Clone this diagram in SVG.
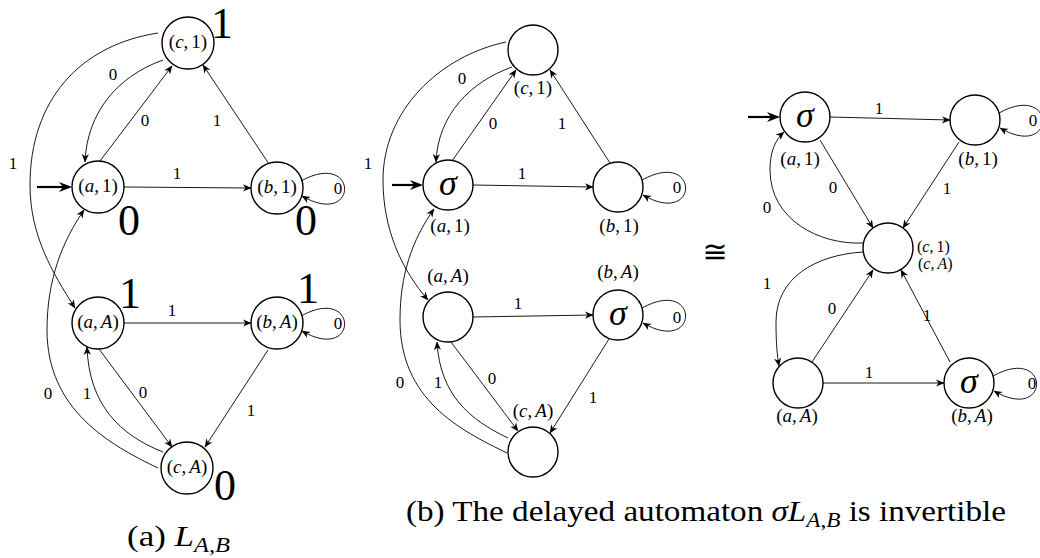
<svg xmlns="http://www.w3.org/2000/svg" width="1040" height="558" viewBox="0 0 1040 558">
<style>
.nd circle{fill:#fff;stroke:#000;stroke-width:1.4}
.e{fill:none;stroke:#000;stroke-width:0.9;marker-end:url(#arr)}
.init{fill:none;stroke:#000;stroke-width:2.2;marker-end:url(#arrI)}
svg text{fill:#000;font-family:'Liberation Serif',serif !important}
.l{font-size:17px;text-anchor:middle}
.nl{font-size:19px;text-anchor:middle}
.nls{font-size:16px;text-anchor:start}
.big{font-size:44px;text-anchor:middle}
.sig{font-size:36px;font-style:italic;text-anchor:middle}
.it{font-style:italic}
.cap{font-size:30px}
</style>
<defs>
<marker id="arr" viewBox="-9 -5 10 10" refX="0" refY="0" markerWidth="10" markerHeight="10" markerUnits="userSpaceOnUse" orient="auto"><path d="M0.5,0 L-8,-3.6 L-5.5,0 L-8,3.6 Z" fill="#000"/></marker>
<marker id="arrI" viewBox="-10 -6 15 12" refX="0" refY="0" markerWidth="15" markerHeight="12" markerUnits="userSpaceOnUse" orient="auto"><path d="M4,0 L-9,-5 L-5,0 L-9,5 Z" fill="#000"/></marker>
</defs>
<g id="connectors">
<path class="init" d="M37,187 L68,187"/>
<path class="e" d="M124,187 L251,188"/>
<path class="e" d="M269,164 L203,65"/>
<path class="e" d="M100,161 L172,66"/>
<path class="e" d="M163,60 C118,76 87,112 85,162"/>
<path class="e" d="M301,181 C359,149 359,229 302,196"/>
<path class="e" d="M158,33 C80,45 30,100 30,185 C30,235 52,272 75,308"/>
<path class="e" d="M158,468 C110,445 47,410 47,330 C47,280 62,242 84,210"/>
<path class="e" d="M124,323 L251,323"/>
<path class="e" d="M301,316 C359,284 359,364 302,331"/>
<path class="e" d="M99,349 L172,447"/>
<path class="e" d="M163,452 C120,435 89,405 87,347"/>
<path class="e" d="M268,350 L205,447"/>
<path class="init" d="M392,185 L419,185"/>
<path class="e" d="M473,185 L593,187"/>
<path class="e" d="M610,163 L550,70"/>
<path class="e" d="M452,161 L516,70"/>
<path class="e" d="M512,67 C470,82 438,115 436,162"/>
<path class="e" d="M642,180 C700,148 700,228 643,195"/>
<path class="e" d="M506,42 C440,56 383,110 383,180 C383,230 402,270 428,300"/>
<path class="e" d="M507,453 C460,430 400,400 400,320 C400,275 412,240 434,209"/>
<path class="e" d="M473,317 L593,315"/>
<path class="e" d="M642,308 C700,276 700,356 643,323"/>
<path class="e" d="M451,342 L518,431"/>
<path class="e" d="M508,438 C470,420 440,395 437,342"/>
<path class="e" d="M609,339 L550,433"/>
<path class="init" d="M748,117 L776,117"/>
<path class="e" d="M830,117 L950,120"/>
<path class="e" d="M820,140 L873,228"/>
<path class="e" d="M959,142 L903,228"/>
<path class="e" d="M863,243 C820,245 770,220 770,170 C770,152 775,140 784,132"/>
<path class="e" d="M863,252 C815,255 776,278 776,322 C776,342 777,355 779,366"/>
<path class="e" d="M812,362 L873,270"/>
<path class="e" d="M950,362 L901,270"/>
<path class="e" d="M823,383 L944,383"/>
<path class="e" d="M999,113 C1057,81 1057,161 1000,128"/>
<path class="e" d="M993,376 C1051,344 1051,424 994,391"/>
</g>
<g id="edge-labels">
<text class="l" x="113" y="80">0</text>
<text class="l" x="145" y="126">0</text>
<text class="l" x="217" y="126">1</text>
<text class="l" x="177" y="179">1</text>
<text class="l" x="13" y="169">1</text>
<text class="l" x="338" y="194">0</text>
<text class="l" x="172" y="316">1</text>
<text class="l" x="338" y="329">0</text>
<text class="l" x="48" y="399">0</text>
<text class="l" x="87" y="399">1</text>
<text class="l" x="143" y="398">0</text>
<text class="l" x="251" y="416">1</text>
<text class="l" x="462" y="84">0</text>
<text class="l" x="493" y="129">0</text>
<text class="l" x="562" y="129">1</text>
<text class="l" x="368" y="169">1</text>
<text class="l" x="522" y="179">1</text>
<text class="l" x="677" y="193">0</text>
<text class="l" x="518" y="309">1</text>
<text class="l" x="677" y="323">0</text>
<text class="l" x="400" y="388">0</text>
<text class="l" x="438" y="388">1</text>
<text class="l" x="492" y="384">0</text>
<text class="l" x="593" y="403">1</text>
<text class="l" x="879" y="114">1</text>
<text class="l" x="833" y="193">0</text>
<text class="l" x="947" y="194">1</text>
<text class="l" x="767" y="213">0</text>
<text class="l" x="767" y="289">1</text>
<text class="l" x="832" y="314">0</text>
<text class="l" x="927" y="321">1</text>
<text class="l" x="869" y="378">1</text>
<text class="l" x="1033" y="126">0</text>
<text class="l" x="1032" y="389">0</text>
</g>
<g id="a-c1" class="nd"><circle cx="188" cy="43" r="26"/><text class="nl" x="188" y="48">(<tspan class="it">c</tspan>,<tspan dx="3">1</tspan>)</text><text class="big" x="222" y="38">1</text></g>
<g id="a-a1" class="nd"><circle cx="98" cy="187" r="26"/><text class="nl" x="98" y="192">(<tspan class="it">a</tspan>,<tspan dx="3">1</tspan>)</text><text class="big" x="129" y="235">0</text></g>
<g id="a-b1" class="nd"><circle cx="277" cy="188" r="26"/><text class="nl" x="277" y="193">(<tspan class="it">b</tspan>,<tspan dx="3">1</tspan>)</text><text class="big" x="306" y="235">0</text></g>
<g id="a-aA" class="nd"><circle cx="98" cy="323" r="26"/><text class="nl" x="98" y="328">(<tspan class="it">a</tspan>,<tspan dx="3" class="it">A</tspan>)</text><text class="big" x="130" y="308">1</text></g>
<g id="a-bA" class="nd"><circle cx="277" cy="323" r="26"/><text class="nl" x="277" y="328">(<tspan class="it">b</tspan>,<tspan dx="3" class="it">A</tspan>)</text><text class="big" x="308" y="303">1</text></g>
<g id="a-cA" class="nd"><circle cx="187" cy="468" r="26"/><text class="nl" x="187" y="473">(<tspan class="it">c</tspan>,<tspan dx="3" class="it">A</tspan>)</text><text class="big" x="225" y="500">0</text></g>
<g id="b-c1" class="nd"><circle cx="533" cy="50" r="25"/><text class="nl" x="533" y="94">(<tspan class="it">c</tspan>,<tspan dx="3">1</tspan>)</text></g>
<g id="b-a1" class="nd"><circle cx="448" cy="185" r="25"/><text class="sig" x="448" y="195">σ</text><text class="nl" x="450" y="232">(<tspan class="it">a</tspan>,<tspan dx="3">1</tspan>)</text></g>
<g id="b-b1" class="nd"><circle cx="618" cy="187" r="25"/><text class="nl" x="619" y="232">(<tspan class="it">b</tspan>,<tspan dx="3">1</tspan>)</text></g>
<g id="b-aA" class="nd"><circle cx="448" cy="317" r="25"/><text class="nl" x="448" y="282">(<tspan class="it">a</tspan>,<tspan dx="3" class="it">A</tspan>)</text></g>
<g id="b-bA" class="nd"><circle cx="618" cy="315" r="25"/><text class="sig" x="618" y="325">σ</text><text class="nl" x="618" y="278">(<tspan class="it">b</tspan>,<tspan dx="3" class="it">A</tspan>)</text></g>
<g id="b-cA" class="nd"><circle cx="533" cy="452" r="25"/><text class="nl" x="533" y="417">(<tspan class="it">c</tspan>,<tspan dx="3" class="it">A</tspan>)</text></g>
<text x="715" y="262" style="font-family:'DejaVu Sans',sans-serif !important" font-size="30" text-anchor="middle">≅</text>
<g id="c-a1" class="nd"><circle cx="805" cy="117" r="25"/><text class="sig" x="805" y="127">σ</text><text class="nl" x="800" y="165">(<tspan class="it">a</tspan>,<tspan dx="3">1</tspan>)</text></g>
<g id="c-b1" class="nd"><circle cx="975" cy="120" r="25"/><text class="nl" x="978" y="165">(<tspan class="it">b</tspan>,<tspan dx="3">1</tspan>)</text></g>
<g id="c-c" class="nd"><circle cx="888" cy="248" r="25"/><text class="nls" x="917" y="252">(<tspan class="it">c</tspan>,<tspan dx="3">1</tspan>)</text><text class="nls" x="918" y="269">(<tspan class="it">c</tspan>,<tspan dx="3" class="it">A</tspan>)</text></g>
<g id="c-aA" class="nd"><circle cx="798" cy="383" r="25"/><text class="nl" x="797" y="422">(<tspan class="it">a</tspan>,<tspan dx="3" class="it">A</tspan>)</text></g>
<g id="c-bA" class="nd"><circle cx="969" cy="383" r="25"/><text class="sig" x="969" y="393">σ</text><text class="nl" x="972" y="422">(<tspan class="it">b</tspan>,<tspan dx="3" class="it">A</tspan>)</text></g>
<text class="cap" x="127" y="546" textLength="103" lengthAdjust="spacingAndGlyphs">(a) <tspan class="it">L</tspan><tspan class="it" font-size="21" dy="6">A</tspan><tspan font-size="21">,</tspan><tspan class="it" font-size="21">B</tspan></text>
<text class="cap" x="406" y="521" textLength="600" lengthAdjust="spacingAndGlyphs">(b) The delayed automaton <tspan class="it">σL</tspan><tspan class="it" font-size="21" dy="6">A</tspan><tspan font-size="21">,</tspan><tspan class="it" font-size="21">B</tspan><tspan dy="-6"> is invertible</tspan></text>
</svg>
